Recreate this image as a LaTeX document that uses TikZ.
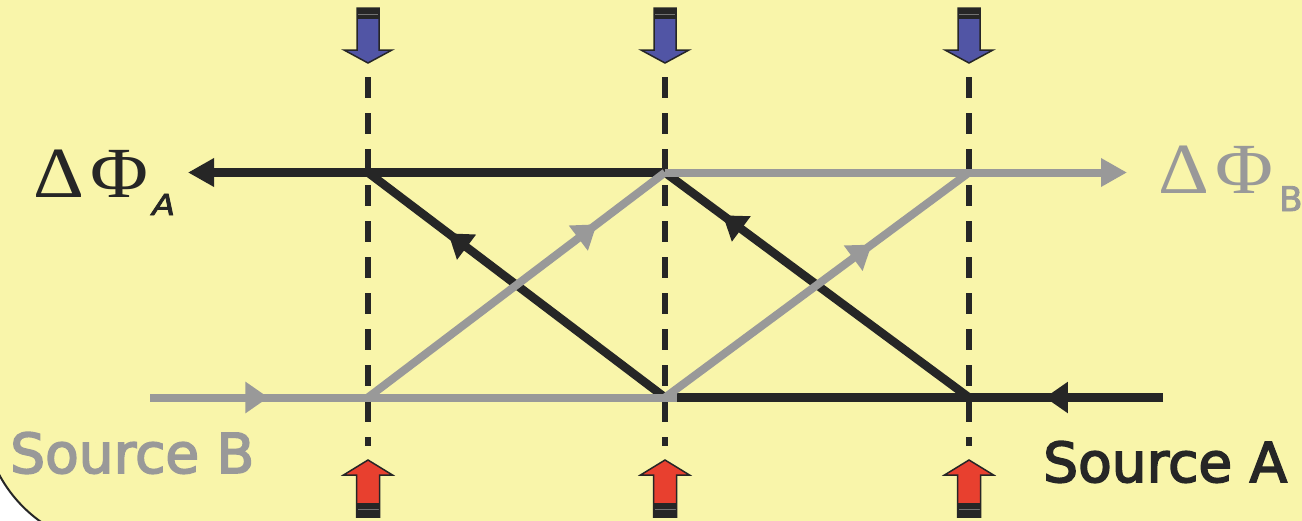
\documentclass[tikz,border=0pt]{standalone}
\usepackage{fontspec}
\setmainfont{Liberation Serif}
\newfontfamily\srcfont[FakeBold=3]{DejaVu Sans}
\newfontfamily\subfont[FakeBold=2.5]{DejaVu Sans}
\usetikzlibrary{arrows.meta,decorations.markings}
\definecolor{bgyellow}{RGB}{249,245,170}
\definecolor{beamgray}{RGB}{153,153,153}
\definecolor{beamblack}{RGB}{38,38,38}
\definecolor{arrblue}{RGB}{81,85,165}
\definecolor{arrred}{RGB}{232,64,47}
\tikzset{
  blackbeam/.style={draw=beamblack, line width=8.5pt},
  graybeam/.style={draw=beamgray, line width=8pt},
  midarrow/.style={postaction={decorate}, decoration={markings,
      mark=at position #1 with {\arrow{Triangle[length=23pt,width=30pt]}}}},
  endtip/.style={-{Triangle[length=26pt,width=27pt]}},
  vdash/.style={draw=beamblack, line width=6pt, dash pattern=on 21pt off 15pt},
  outl/.style={draw=black!85, line width=1.5pt, line join=miter},
  bluedown/.pic={
    \fill[arrblue] (-11,8) -- (11,8) -- (11,50) -- (24,50) -- (0,63) -- (-24,50) -- (-11,50) -- cycle;
    \fill[beamblack] (-11,8) rectangle (11,19);
    \draw[black!55, line width=1pt] (-10,14) -- (10,14);
    \draw[outl] (-11,8) -- (11,8) -- (11,50) -- (24,50) -- (0,63) -- (-24,50) -- (-11,50) -- cycle;
  },
  redup/.pic={
    \fill[arrred] (0,460) -- (24.5,475) -- (11.5,475) -- (11.5,517) -- (-11.5,517) -- (-11.5,475) -- (-24.5,475) -- cycle;
    \fill[beamblack] (-11.5,503) rectangle (11.5,517);
    \draw[black!55, line width=1pt] (-10.5,509) -- (10.5,509);
    \draw[outl] (0,460) -- (24.5,475) -- (11.5,475) -- (11.5,517) -- (-11.5,517) -- (-11.5,475) -- (-24.5,475) -- cycle;
  },
  lab/.style={anchor=base west, inner sep=0pt},
  greek/.style={lab, font=\fontsize{72}{72}\selectfont, xscale=1.1},
}
\begin{document}
\begin{tikzpicture}[x=1pt,y=-1pt]
\useasboundingbox (0,0) rectangle (1302,520);
\clip (0,0) rectangle (1302,520);
\fill[white] (0,0) rectangle (1302,520);
\draw[fill=bgyellow, draw=black!85, line width=2pt, rounded corners=137pt] (-17,-300) rectangle (1600,547);

% junction points
\coordinate (t1) at (368,172.5);
\coordinate (t2) at (665,172.5);
\coordinate (t3) at (969,172.5);
\coordinate (b1) at (368,397.5);
\coordinate (b2) at (665,397.5);
\coordinate (b3) at (969,397.5);
\coordinate (aL) at (188,172.5);
\coordinate (aR) at (1127,172.5);
\coordinate (sB) at (150,397.5);
\coordinate (sA) at (1163,397.5);
\coordinate (v1a) at (368,77);  \coordinate (v1b) at (368,446);
\coordinate (v2a) at (665,77);  \coordinate (v2b) at (665,446);
\coordinate (v3a) at (969,77);  \coordinate (v3b) at (969,446);

% dashed verticals
\draw[vdash] (v1a) -- (v1b);
\draw[vdash] (v2a) -- (v2b);
\draw[vdash] (v3a) -- (v3b);

% pulses
\pic at (368,0) {bluedown};
\pic at (665,0) {bluedown};
\pic at (969,0) {bluedown};
\pic at (368,0) {redup};
\pic at (665,0) {redup};
\pic at (969,0) {redup};

% black beams (source A)
\draw[blackbeam, midarrow=0.237] (sA) -- (b2);
\draw[blackbeam, midarrow=0.81] (b3) -- (t2);
\draw[blackbeam, midarrow=0.73] (b2) -- (t1);
\draw[blackbeam, endtip] (t2) -- (aL);

% gray beams (source B)
\draw[graybeam, midarrow=0.23, shorten >=-12pt] (sB) -- (b2);
\draw[graybeam, midarrow=0.77] (b1) -- (t2);
\draw[graybeam, midarrow=0.68] (b2) -- (t3);
\draw[graybeam, endtip] (t2) -- (aR);

% labels
\node[greek, text=beamblack] (delA) at (33,197) {Δ};
\node[greek, text=beamblack] (phiA) at (90,197) {Φ};
\node[lab, text=beamblack, font=\subfont\itshape\fontsize{29}{29}\selectfont, xscale=1.15] (subA) at (152,215) {A};
\node[greek, text=beamgray] (delB) at (1158,193) {Δ};
\node[greek, text=beamgray] (phiB) at (1215,193) {Φ};
\node[lab, text=beamgray, font=\subfont\fontsize{34}{34}\selectfont] (subB) at (1279,211) {B};
\node[lab, text=beamgray, font=\srcfont\fontsize{55}{55}\selectfont] (srcB) at (10,473) {Source B};
\node[lab, text=beamblack, font=\srcfont\fontsize{55}{55}\selectfont] (srcA) at (1043,482) {Source A};
\end{tikzpicture}
\end{document}
